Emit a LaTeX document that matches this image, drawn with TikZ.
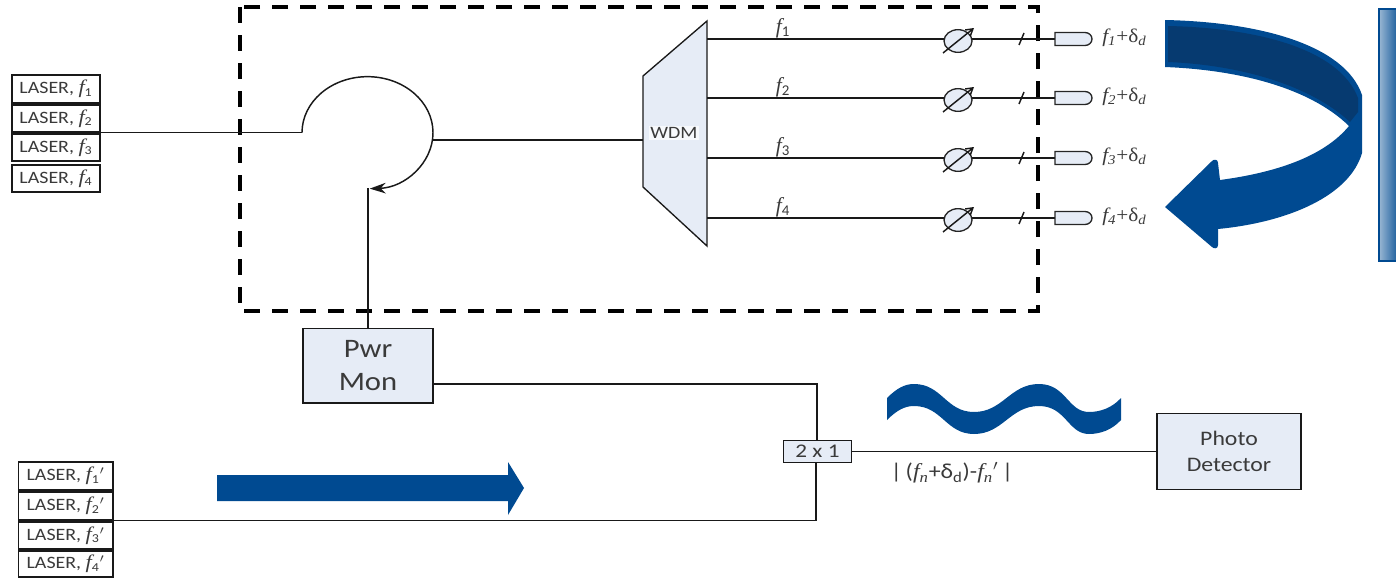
\documentclass[tikz,border=0pt]{standalone}
\usepackage{fontspec}
\setmainfont{Carlito}
\newfontfamily\serifit[ItalicFont=Liberation Serif Italic]{Liberation Serif}
\newcommand{\stretchit}[2][1.15]{\scalebox{#1}[1]{#2}}
\newcommand{\ff}{{\serifit\itshape f}}
\newcommand{\lasertext}[2]{\stretchit{LASER, {\fontsize{14.5}{15}\selectfont\ff}\textsubscript{#1}#2}}
\newcommand{\outtext}[1]{\stretchit[1.1]{{\serifit\itshape f\textsubscript{#1}}{\serifit +δ\textsubscript{\itshape d}}}}
\usetikzlibrary{arrows.meta,shapes.geometric}
\definecolor{boxfill}{HTML}{E6ECF6}
\definecolor{deepblue}{HTML}{004A91}
\definecolor{darkblue}{HTML}{063A70}
\definecolor{inkgray}{HTML}{3A3A3A}
\tikzset{
  x=0.75pt,y=-0.75pt,
  wire/.style={draw=black!90,line width=1.1pt},
  laserbox/.style={draw=black!90,line width=1pt,fill=white,inner sep=0pt,text=inkgray,font=\fontsize{13}{14}\selectfont,anchor=center},
  blockbox/.style={draw=black!90,line width=1pt,fill=boxfill,inner sep=0pt,text=inkgray,align=center},
  freqlabel/.style={inner sep=0pt,text=inkgray,font=\fontsize{16}{17}\selectfont},
  outlabel/.style={inner sep=0pt,text=inkgray,anchor=west,font=\fontsize{14.5}{15}\selectfont},
  vatt/.style={draw=black!85,line width=1pt,fill=boxfill,ellipse,minimum width=21pt,minimum height=17pt,inner sep=0pt},
  collim/.style={draw=black!85,line width=1pt,fill=boxfill},
}
\begin{document}
\begin{tikzpicture}
\useasboundingbox (0,0) rectangle (1396,578);
% dashed enclosure
\draw[black,line width=3pt,dash pattern=on 12pt off 9pt] (240,7) rectangle (1038,311);
% side gradient bar
\shade[left color=deepblue!40,right color=deepblue!85] (1379,9) rectangle (1396,261);
\draw[deepblue,line width=1pt] (1396,9) -- (1379,9) -- (1379,261) -- (1396,261);
% lasers
\foreach \n/\ya/\yb in {1/75/103,2/105/132,3/134/161,4/165/192}{
  \node[laserbox,minimum width=66pt,minimum height={(\yb-\ya)*0.75pt}] (L\n) at (56,{(\ya+\yb)/2}) {\lasertext{\n}{}};
}
\foreach \n/\ya/\yb in {1/462/490,2/492/520,3/522/549,4/551/577}{
  \node[laserbox,minimum width=71pt,minimum height={(\yb-\ya)*0.75pt}] (P\n) at (65.5,{(\ya+\yb)/2}) {\lasertext{\n}{$'$}};
}
% circulator
\coordinate (cstart) at (L2.south east -| 302,0);
\coordinate (cjoin) at (433,140);
\draw[wire] (L2.south east) -- (cstart);
\draw[wire,-{Stealth[length=12pt,width=8pt]}] (cstart) arc[start angle=180,end angle=448,x radius=65.5,y radius=56];
% WDM
\draw[draw=black!90,line width=1pt,fill=boxfill] (707,21) -- (707,246) -- (643,187) -- (643,76) -- cycle;
\node[fill=white,fill opacity=.7,text opacity=1,inner sep=1pt,text=inkgray,font=\fontsize{13}{14}\selectfont] (wdm) at (674,133) {\stretchit{WDM}};
\coordinate (wdmin) at (643,140);
\draw[wire] (cjoin) -- (wdmin);
% branches
\foreach \n/\y in {1/39,2/98,3/158,4/218}{
  \coordinate (w\n) at (707,\y);
  \coordinate (c\n) at (1055,\y);
  \draw[wire] (w\n) -- (c\n);
  \draw[collim] (1055,\y-6.5) -- (1085,\y-6.5) arc[start angle=-90,end angle=90,x radius=7,y radius=6.5] -- (1055,\y+6.5) -- cycle;
  \node[vatt] (a\n) at (958,\y+2) {};
  \draw[wire,-{Straight Barb[length=5pt,width=6pt]}] (943,\y+14) -- (974,\y-11);
  \draw[wire] (1019,\y+6) -- (1024,\y-6);
  \node[freqlabel] (ft\n) at (783,\y-11) {\ff\textsubscript{\n}};
  \node[outlabel] (o\n) at (1102,\y-1) {\outtext{\n}};
}
% power monitor
\node[blockbox,minimum width=97.5pt,minimum height=56pt,font=\fontsize{20}{24.5}\selectfont] (pwr) at (368,365.5) {\stretchit{Pwr}\\\stretchit{Mon}};
\coordinate (ctip) at (pwr.north |- 0,188);
\draw[wire] (pwr.north) -- (ctip);
% combiner
\node[blockbox,minimum width=51pt,minimum height=16.5pt,font=\fontsize{14.5}{15}\selectfont] (comb) at (817.5,451.5) {\stretchit[1.2]{2 x 1}};
\node[blockbox,minimum width=108pt,minimum height=57pt,font=\fontsize{15.5}{19}\selectfont] (pd) at (1229,451.5) {\stretchit{Photo}\\\stretchit{Detector}};
\coordinate (pturn) at (817,384);
\coordinate (lturn) at (P2.south east -| 816,0);
\draw[wire] (pwr.east |- pturn) -- (pturn) -- (comb.north -| pturn);
\draw[wire] (P2.south east) -- (lturn) -- (comb.south -| lturn);
\draw[wire] (comb) -- (pd);
\node[inner sep=0pt,text=inkgray,font=\fontsize{16}{17}\selectfont] (beat) at (952,473) {\stretchit[1.12]{|\,({\serifit\itshape f\textsubscript{n}}+δ\textsubscript{d})-{\serifit\itshape f\textsubscript{n}}$'$\,|}};
% straight arrow
\fill[deepblue] (217,475) -- (508,475) -- (508,462) -- (524,488) -- (508,515) -- (508,501) -- (217,501) -- cycle;
% wave
\fill[deepblue] (887,398) .. controls (897,388) and (905,384) .. (914,384) .. controls (942,384) and (946,412) .. (974,412) .. controls (1003,412) and (1010,384) .. (1039,384) .. controls (1066,384) and (1068,412) .. (1089,412) .. controls (1100,412) and (1112,408) .. (1121,398) -- (1121,420) .. controls (1112,430) and (1100,434) .. (1089,434) .. controls (1068,434) and (1066,406) .. (1039,406) .. controls (1010,406) and (1003,434) .. (974,434) .. controls (946,434) and (942,406) .. (914,406) .. controls (905,406) and (897,410) .. (887,420) -- cycle;
% curved arrow
\fill[deepblue] (1165,20) .. controls (1260,22) and (1345,45) .. (1362,95) -- (1362,153) .. controls (1350,195) and (1290,222) .. (1218,229) -- (1218,245) .. controls (1218,249) and (1214,249) .. (1212,247) -- (1165,207) -- (1212,161) .. controls (1214,159) and (1218,159) .. (1218,163) -- (1220,180) .. controls (1280,172) and (1325,155) .. (1349,126) .. controls (1310,88) and (1240,70) .. (1165,67) -- cycle;
\fill[darkblue] (1168,26) .. controls (1260,28) and (1340,50) .. (1358,98) -- (1358,112) -- (1350,122) .. controls (1310,85) and (1240,65) .. (1168,62) -- cycle;
\end{tikzpicture}
\end{document}
